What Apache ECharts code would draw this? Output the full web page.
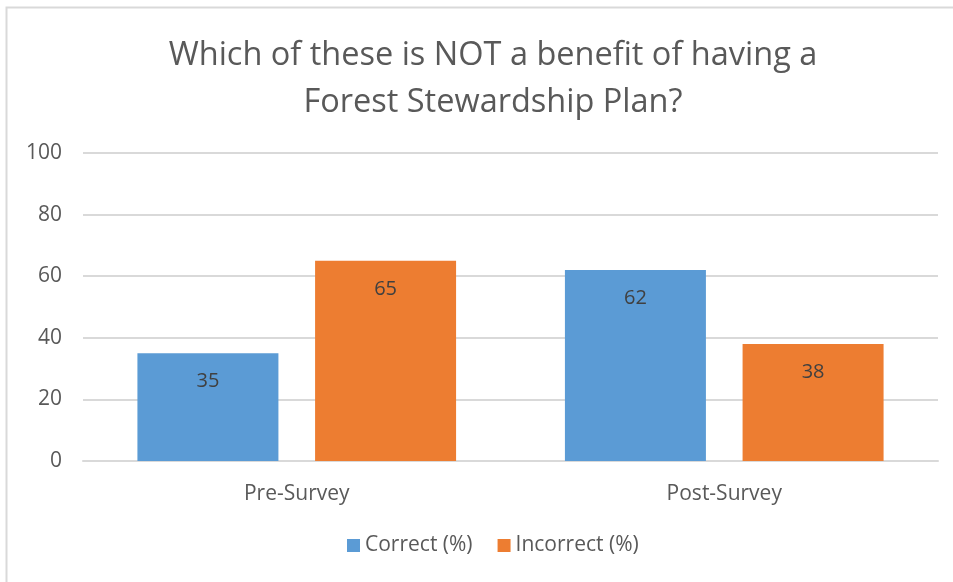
<!DOCTYPE html>
<html><head><meta charset="utf-8">
<script src="https://cdn.jsdelivr.net/npm/echarts@6/dist/echarts.min.js"></script>
<style>html,body{margin:0;padding:0;background:#fff}#c{width:953px;height:582px}</style>
</head><body><div id="c"></div>
<script>
const categories = ['Pre-Survey', 'Post-Survey'];
const correct = [35, 62];
const incorrect = [65, 38];
const yTicks = {min: 0, max: 100, interval: 20};
const seriesNames = ['Correct (%)', 'Incorrect (%)'];
const titleText = 'Which of these is NOT a benefit of having a\nForest Stewardship Plan?';

const font = "'Open Sans', 'Noto Sans', sans-serif";
const chart = echarts.init(document.getElementById('c'), null, {renderer: 'canvas'});
const labelCfg = {show: true, position: 'insideTop', distance: 18, color: '#404040', fontSize: 20, fontFamily: font};
chart.setOption({
  animation: false,
  graphic: [{type: 'rect', shape: {x: 6.5, y: 7.5, width: 1000, height: 700}, style: {fill: 'none', stroke: '#d9d9d9', lineWidth: 2}, z: -1}],
  title: {text: titleText, left: 488, top: 27, textAlign: 'center',
    textStyle: {fontSize: 32.5, fontWeight: 'normal', color: '#595959', fontFamily: font, lineHeight: 47}},
  legend: {bottom: 21, left: 342, itemWidth: 13, itemHeight: 13, itemGap: 25, icon: 'rect',
    textStyle: {fontSize: 21, color: '#595959', fontFamily: font}},
  grid: {left: 83, right: 15, top: 153, bottom: 121, containLabel: false},
  xAxis: {type: 'category', data: categories,
    axisLine: {lineStyle: {color: '#d9d9d9', width: 2}}, axisTick: {show: false},
    axisLabel: {fontSize: 21, color: '#595959', fontFamily: font, margin: 23}},
  yAxis: {type: 'value', min: yTicks.min, max: yTicks.max, interval: yTicks.interval,
    axisLine: {show: false}, axisTick: {show: false},
    splitLine: {lineStyle: {color: '#d9d9d9', width: 2}},
    axisLabel: {fontSize: 21, color: '#595959', fontFamily: font, margin: 21}},
  series: [
    {name: seriesNames[0], type: 'bar', data: correct, barWidth: 141, barGap: '26%', itemStyle: {color: '#5B9BD5'}, label: labelCfg},
    {name: seriesNames[1], type: 'bar', data: incorrect, barWidth: 141, barGap: '26%', itemStyle: {color: '#ED7D31'}, label: labelCfg}
  ]
});
</script></body></html>
